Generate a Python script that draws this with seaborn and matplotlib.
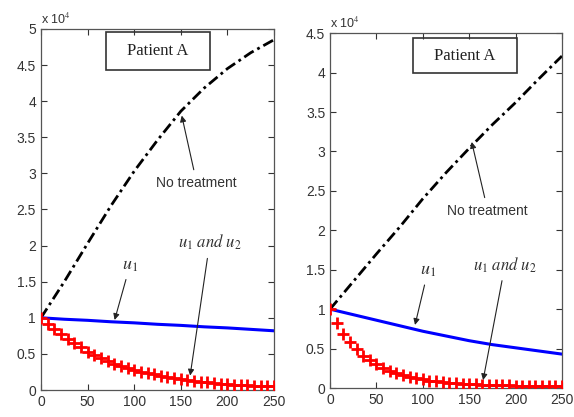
import numpy as np
import pandas as pd
import seaborn as sns
import matplotlib.pyplot as plt
from matplotlib.patches import Rectangle
from matplotlib.ticker import FuncFormatter

# time grid of the curves (days)
t_curve = [0, 25, 50, 75, 100, 125, 150, 175, 200, 225, 250]
t_mark = np.linspace(0, 250, 36)

# panel 1 (values x 10^4)
notreat_1 = [1.0, 1.5, 2.03, 2.55, 3.03, 3.46, 3.86, 4.18, 4.45, 4.67, 4.85]
u1_1 = [1.0, 0.98, 0.965, 0.945, 0.93, 0.91, 0.895, 0.875, 0.86, 0.84, 0.82]
u12_1 = [1.00, 0.91, 0.84, 0.77, 0.71, 0.65, 0.59, 0.53, 0.48, 0.44, 0.40, 0.36,
         0.33, 0.305, 0.28, 0.255, 0.235, 0.215, 0.195, 0.18, 0.165, 0.15,
         0.135, 0.125, 0.115, 0.105, 0.095, 0.088, 0.08, 0.075, 0.07, 0.065,
         0.06, 0.057, 0.054, 0.05]

# panel 2
notreat_2 = [1.0, 1.35, 1.7, 2.04, 2.4, 2.73, 3.04, 3.34, 3.62, 3.92, 4.21]
u1_2 = [1.0, 0.93, 0.86, 0.79, 0.72, 0.66, 0.60, 0.55, 0.51, 0.47, 0.43]
u12_2 = [1.00, 0.83, 0.69, 0.58, 0.49, 0.41, 0.35, 0.30, 0.26, 0.22, 0.19, 0.165,
         0.145, 0.125, 0.11, 0.095, 0.085, 0.075, 0.068, 0.062, 0.056, 0.05,
         0.046, 0.042, 0.039, 0.036, 0.034, 0.032, 0.03, 0.028, 0.026, 0.025,
         0.023, 0.022, 0.021, 0.02]

sns.set_style("ticks")
plt.rcParams['font.family'] = ['Liberation Sans', 'DejaVu Sans']
plt.rcParams['mathtext.fontset'] = 'stix'
plt.rcParams['xtick.direction'] = 'in'
plt.rcParams['ytick.direction'] = 'in'
plt.rcParams['xtick.top'] = True
plt.rcParams['ytick.right'] = True

fig = plt.figure(figsize=(5.74, 4.17), dpi=100)
ax1 = fig.add_axes([0.0714, 0.0647, 0.406, 0.866])
ax2 = fig.add_axes([0.575, 0.0695, 0.404, 0.851])

panels = [
    (ax1, notreat_1, u1_1, u12_1, 5.0,
     dict(box=(0.279, 0.886, 0.446, 0.106), title=(0.50, 0.94),
          nt=((167, 2.87), (151, 3.80)),
          u1=((95.5, 1.73), (79, 0.97)),
          u12=((181, 2.04), (160, 0.20)))),
    (ax2, notreat_2, u1_2, u12_2, 4.5,
     dict(box=(0.358, 0.887, 0.448, 0.099), title=(0.582, 0.936),
          nt=((170, 2.25), (152.7, 3.12)),
          u1=((105.6, 1.49), (91.6, 0.80)),
          u12=((188.6, 1.56), (165, 0.10)))),
]

for ax, nt, u1, u12, ymax, ann in panels:
    df = pd.DataFrame({'t': t_curve, 'none': nt, 'u1': u1})
    dm = pd.DataFrame({'t': t_mark, 'u12': u12})
    sns.lineplot(data=df, x='t', y='none', ax=ax, color='black', lw=2,
                 linestyle=(0, (4, 1.5, 1, 1.5)))
    sns.lineplot(data=df, x='t', y='u1', ax=ax, color='#0000ff', lw=2.2)
    sns.scatterplot(data=dm, x='t', y='u12', ax=ax, color='red', marker='+',
                    s=70, linewidth=2, zorder=3)

    ax.set_xlim(0, 250)
    ax.set_ylim(0, ymax)
    ax.set_xticks([0, 50, 100, 150, 200, 250])
    ax.set_yticks(np.arange(0, ymax + 0.01, 0.5))
    ax.yaxis.set_major_formatter(FuncFormatter(lambda v, _: f'{v:g}'))
    ax.tick_params(labelsize=10, length=4, width=0.8, colors='#333333')
    ax.set_xlabel('')
    ax.set_ylabel('')
    for s in ax.spines.values():
        s.set_visible(True)
        s.set_color('#555555')
        s.set_linewidth(0.9)

    ax.text(0.0, 1.005, r'x 10$^4$', transform=ax.transAxes, fontsize=9,
            ha='left', va='bottom', color='#333333')

    bx, by, bw, bh = ann['box']
    ax.add_patch(Rectangle((bx, by), bw, bh, transform=ax.transAxes,
                           fill=False, ec='#333333', lw=1.2, zorder=5))
    ax.text(*ann['title'], 'Patient A', transform=ax.transAxes, ha='center',
            va='center', fontsize=12, family=['Liberation Serif'], color='#222222')

    arrow = dict(arrowstyle='-|>', color='#222222', lw=0.8, mutation_scale=9,
                 shrinkA=2, shrinkB=0)
    (tx, ty), tip = ann['nt']
    ax.annotate('No treatment', xy=tip, xytext=(tx, ty), ha='center', va='center',
                fontsize=10, color='#333333', arrowprops=arrow)
    (tx, ty), tip = ann['u1']
    ax.annotate(r'$u_1$', xy=tip, xytext=(tx, ty), ha='center', va='center',
                fontsize=13, color='#333333', arrowprops=arrow)
    (tx, ty), tip = ann['u12']
    ax.annotate(r'$u_1\ and\ u_2$', xy=tip, xytext=(tx, ty), ha='center',
                va='center', fontsize=12, color='#333333', arrowprops=arrow)

fig.savefig('out.png', dpi=100, facecolor='white')
